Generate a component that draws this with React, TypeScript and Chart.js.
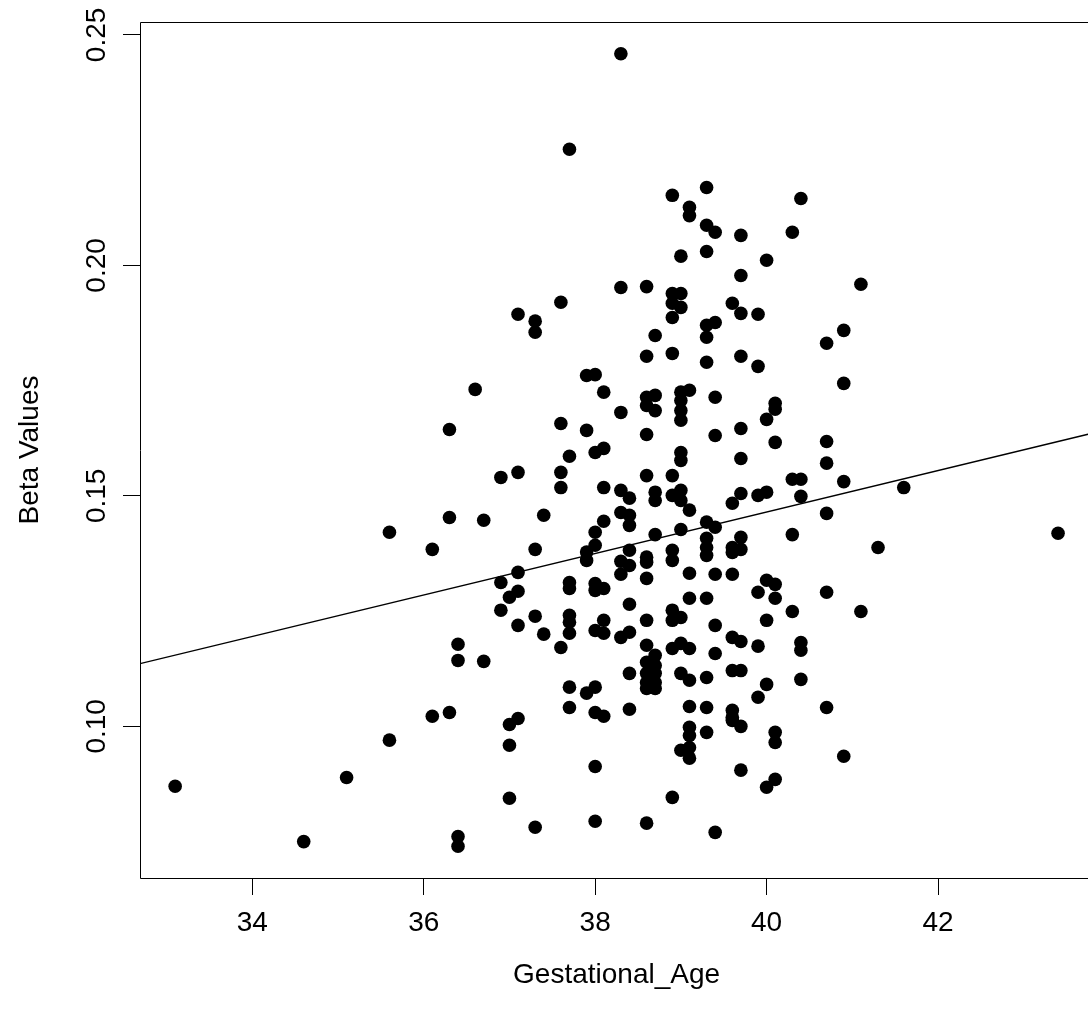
import React, { useEffect, useRef } from "react";
import { Chart, registerables } from "chart.js";

Chart.register(...registerables);

// Gestational age (weeks) columns present in the data
const gestationalAgeColumns = [
  33.1, 34.6, 35.1, 35.6, 36.1, 36.3, 36.4, 36.6, 36.7, 36.9, 37.0, 37.1, 37.3, 37.4,
  37.6, 37.7, 37.9, 38.0, 38.1, 38.3, 38.4, 38.6, 38.7, 38.9, 39.0, 39.1, 39.3, 39.4,
  39.6, 39.7, 39.9, 40.0, 40.1, 40.3, 40.4, 40.7, 40.9, 41.1, 41.3, 41.6, 43.4,
];

// Beta values observed at each gestational age (same order as above)
const betaValuesByAge = [
  [0.087],
  [0.075],
  [0.0889],
  [0.1421, 0.097],
  [0.1384, 0.1022],
  [0.1644, 0.1453, 0.103],
  [0.1178, 0.1143, 0.0761, 0.074],
  [0.1731],
  [0.1447, 0.1141],
  [0.154, 0.1312, 0.1252],
  [0.128, 0.1004, 0.0959, 0.0844],
  [0.1894, 0.1551, 0.1334, 0.1293, 0.1219, 0.1017],
  [0.1879, 0.1855, 0.1384, 0.1239, 0.0781],
  [0.1458, 0.12],
  [0.192, 0.1657, 0.1551, 0.1518, 0.1171],
  [0.2252, 0.1586, 0.1312, 0.1299, 0.1241, 0.1226, 0.1202, 0.1085, 0.1041],
  [0.1761, 0.1642, 0.1378, 0.136, 0.1072],
  [0.1763, 0.1594, 0.1421, 0.1393, 0.131, 0.1295, 0.1208, 0.1085, 0.103, 0.0913, 0.0794],
  [0.1725, 0.1603, 0.1518, 0.1445, 0.1299, 0.123, 0.1202, 0.1022],
  [0.2459, 0.1952, 0.1681, 0.1512, 0.1464, 0.1358, 0.133, 0.1193],
  [0.1495, 0.1458, 0.1436, 0.1382, 0.1349, 0.1265, 0.1204, 0.1115, 0.1037],
  [0.1954, 0.1803, 0.1714, 0.1696, 0.1633, 0.1544, 0.1367, 0.1356, 0.1321, 0.123, 0.1176, 0.1139, 0.1115, 0.1095, 0.1082, 0.079],
  [0.1848, 0.1718, 0.1685, 0.1508, 0.149, 0.1416, 0.1154, 0.1132, 0.1115, 0.1095, 0.1082],
  [0.2152, 0.1939, 0.1918, 0.1887, 0.1809, 0.1544, 0.1501, 0.1382, 0.136, 0.1252, 0.123, 0.1169, 0.0846],
  [0.202, 0.1939, 0.1909, 0.1725, 0.1707, 0.1685, 0.1664, 0.1594, 0.1577, 0.1512, 0.149, 0.1427, 0.1236, 0.118, 0.1115, 0.0948],
  [0.2126, 0.2108, 0.1729, 0.1469, 0.1332, 0.1278, 0.1169, 0.11, 0.1043, 0.0998, 0.098, 0.0954, 0.0931],
  [0.2169, 0.2087, 0.203, 0.187, 0.1844, 0.179, 0.1443, 0.1408, 0.1388, 0.1371, 0.1278, 0.1106, 0.1041, 0.0987],
  [0.2072, 0.1876, 0.1714, 0.1631, 0.1432, 0.133, 0.1219, 0.1158, 0.077],
  [0.1918, 0.1484, 0.1388, 0.1377, 0.133, 0.1193, 0.1121, 0.1035, 0.102, 0.1013],
  [0.2065, 0.1978, 0.1896, 0.1803, 0.1646, 0.1581, 0.1505, 0.141, 0.1384, 0.1184, 0.1121, 0.1, 0.0905],
  [0.1894, 0.1781, 0.1501, 0.1291, 0.1174, 0.1063],
  [0.2011, 0.1666, 0.1508, 0.1317, 0.123, 0.1091, 0.0868],
  [0.1701, 0.1688, 0.1616, 0.1308, 0.1278, 0.0987, 0.0965, 0.0885],
  [0.2072, 0.1536, 0.1416, 0.1249],
  [0.2145, 0.1536, 0.1499, 0.1182, 0.1165, 0.1102],
  [0.1831, 0.1618, 0.1571, 0.1462, 0.1291, 0.1041],
  [0.1859, 0.1744, 0.1531, 0.0935],
  [0.1959, 0.1249],
  [0.1388],
  [0.1518],
  [0.1419],
];

// Fitted regression line (beta = intercept + slope * age)
const fitIntercept = -0.0335;
const fitSlope = 0.00450;

// Axis ranges and ticks
const xAxisMin = 32.69;
const xAxisMax = 43.81;
const yAxisMin = 0.0671;
const yAxisMax = 0.2528;
const xTickValues = [34, 36, 38, 40, 42];
const xTickLabels = ["34", "36", "38", "40", "42"];
const yTickValues = [0.1, 0.15, 0.2, 0.25];
const yTickLabels = ["0.10", "0.15", "0.20", "0.25"];

const xTitle = "Gestational_Age";
const yTitle = "Beta Values";

const FONT_FAMILY = "'Liberation Sans', Arial, Helvetica, sans-serif";
const FONT_SIZE = 28;

export default function App() {
  const canvasRef = useRef<HTMLCanvasElement | null>(null);

  useEffect(() => {
    const canvas = canvasRef.current;
    if (!canvas) return;

    const points: { x: number; y: number }[] = [];
    gestationalAgeColumns.forEach((age, i) => {
      betaValuesByAge[i].forEach((b) => points.push({ x: age, y: b }));
    });
    const fitLine = [xAxisMin, xAxisMax].map((x) => ({ x, y: fitIntercept + fitSlope * x }));

    const framePlugin = {
      id: "rframe",
      afterDraw(chart: any) {
        const { ctx, chartArea } = chart;
        const ys = chart.scales.y;
        ctx.save();
        ctx.strokeStyle = "#000";
        ctx.lineWidth = 1;
        const l = Math.round(chartArea.left) + 0.5;
        const t = Math.round(chartArea.top) + 0.5;
        const r = Math.round(chartArea.right) + 0.5;
        const b = Math.round(chartArea.bottom) + 0.5;
        ctx.beginPath();
        ctx.moveTo(l, t);
        ctx.lineTo(r, t);
        ctx.lineTo(r, b);
        ctx.lineTo(l, b);
        ctx.closePath();
        ctx.stroke();
        // rotated y tick labels (R style, parallel to axis)
        ctx.fillStyle = "#000";
        ctx.font = `${FONT_SIZE}px ${FONT_FAMILY}`;
        ctx.textAlign = "center";
        ctx.textBaseline = "middle";
        yTickValues.forEach((v, i) => {
          const py = ys.getPixelForValue(v);
          ctx.save();
          ctx.translate(97, py);
          ctx.rotate(-Math.PI / 2);
          ctx.fillText(yTickLabels[i], 0, 0);
          ctx.restore();
        });
        ctx.restore();
      },
    };

    const chart = new Chart(canvas, {
      type: "scatter",
      data: {
        datasets: [
          {
            type: "line",
            data: fitLine,
            borderColor: "#000",
            borderWidth: 1.4,
            pointRadius: 0,
            fill: false,
            tension: 0,
          } as any,
          {
            type: "scatter",
            data: points,
            backgroundColor: "#000",
            borderColor: "#000",
            borderWidth: 0,
            pointRadius: 6.8,
            pointHoverRadius: 6.8,
          } as any,
        ],
      },
      options: {
        responsive: false,
        animation: false,
        events: [],
        layout: { padding: { left: 0, right: 5, top: 22, bottom: 0 } },
        plugins: {
          legend: { display: false },
          tooltip: { enabled: false },
        },
        scales: {
          x: {
            type: "linear",
            min: xAxisMin,
            max: xAxisMax,
            afterBuildTicks: (s: any) => {
              s.ticks = xTickValues.map((v) => ({ value: v }));
            },
            afterFit: (s: any) => {
              s.height = 137;
            },
            grid: {
              display: true,
              drawOnChartArea: false,
              drawTicks: true,
              tickLength: 17,
              color: "#000",
              lineWidth: 1,
            },
            border: { display: false },
            ticks: {
              color: "#000",
              font: { family: FONT_FAMILY, size: FONT_SIZE },
              padding: 11,
              maxRotation: 0,
              minRotation: 0,
              autoSkip: false,
              callback: (v: any) => {
                const i = xTickValues.indexOf(Number(v));
                return i >= 0 ? xTickLabels[i] : "";
              },
            },
            title: {
              display: true,
              text: xTitle,
              color: "#000",
              font: { family: FONT_FAMILY, size: FONT_SIZE },
              padding: { top: 0, bottom: 23 },
            },
          },
          y: {
            type: "linear",
            min: yAxisMin,
            max: yAxisMax,
            afterBuildTicks: (s: any) => {
              s.ticks = yTickValues.map((v) => ({ value: v }));
            },
            afterFit: (s: any) => {
              s.width = 140;
            },
            grid: {
              display: true,
              drawOnChartArea: false,
              drawTicks: true,
              tickLength: 17,
              color: "#000",
              lineWidth: 1,
            },
            border: { display: false },
            ticks: { display: false },
            title: {
              display: true,
              text: yTitle,
              color: "#000",
              font: { family: FONT_FAMILY, size: FONT_SIZE },
              padding: { top: 13, bottom: 0 },
            },
          },
        },
      } as any,
      plugins: [framePlugin],
    });

    return () => chart.destroy();
  }, []);

  return (
    <div
      style={{
        position: "fixed",
        left: 0,
        top: 0,
        width: 1088,
        height: 1015,
        overflow: "hidden",
        background: "#fff",
      }}
    >
      <canvas ref={canvasRef} width={1100} height={1015} style={{ display: "block" }} />
    </div>
  );
}
